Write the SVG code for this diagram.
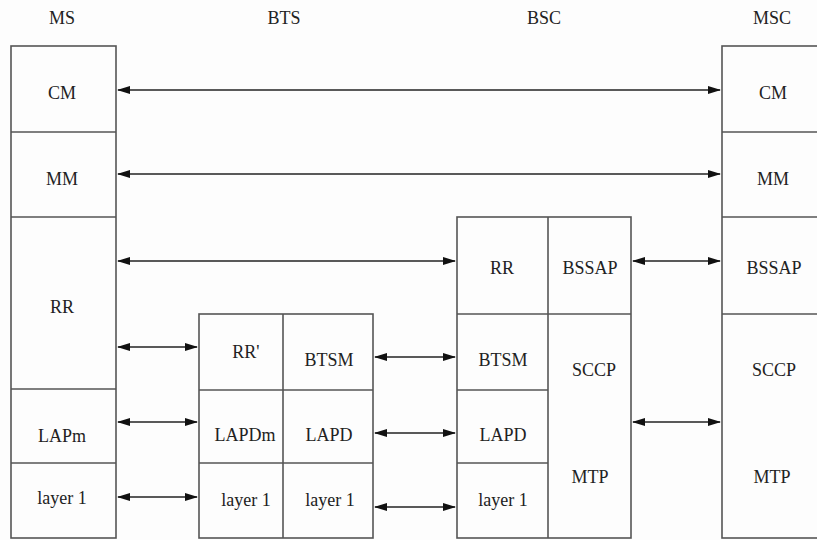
<svg xmlns="http://www.w3.org/2000/svg" width="817" height="540" viewBox="0 0 817 540">
<style>
.box{fill:none;stroke:#555;stroke-width:1.6}
.t{font-family:'Liberation Serif','Times New Roman','DejaVu Serif',serif;font-size:18px;fill:#222;text-anchor:middle}
.c{stroke:#222;stroke-width:1.4;fill:none;marker-start:url(#ah);marker-end:url(#ah)}
</style>
<defs>
<marker id="ah" markerUnits="userSpaceOnUse" markerWidth="13" markerHeight="9" refX="12" refY="4.5" orient="auto-start-reverse">
<path d="M0,0.5 L13,4.5 L0,8.5 z" fill="#111"/>
</marker>
</defs>
<rect width="817" height="540" fill="#fdfdfd"/>
<g id="headers">
<text class="t" x="62" y="24">MS</text>
<text class="t" x="284" y="24">BTS</text>
<text class="t" x="544" y="24">BSC</text>
<text class="t" x="772" y="24">MSC</text>
</g>
<g id="MS">
<rect class="box" x="11" y="46" width="105" height="492"/>
<line class="box" x1="11" y1="132" x2="116" y2="132"/>
<line class="box" x1="11" y1="217" x2="116" y2="217"/>
<line class="box" x1="11" y1="389" x2="116" y2="389"/>
<line class="box" x1="11" y1="463" x2="116" y2="463"/>
<text class="t" x="62" y="99">CM</text>
<text class="t" x="62" y="185">MM</text>
<text class="t" x="62" y="313">RR</text>
<text class="t" x="62" y="442">LAPm</text>
<text class="t" x="62" y="504">layer 1</text>
</g>
<g id="BTS">
<rect class="box" x="199" y="314" width="174" height="224"/>
<line class="box" x1="283" y1="314" x2="283" y2="538"/>
<line class="box" x1="199" y1="390" x2="373" y2="390"/>
<line class="box" x1="199" y1="463" x2="373" y2="463"/>
<text class="t" x="246" y="358">RR'</text>
<text class="t" x="329" y="366">BTSM</text>
<text class="t" x="245" y="441">LAPDm</text>
<text class="t" x="329" y="441">LAPD</text>
<text class="t" x="246" y="506">layer 1</text>
<text class="t" x="330" y="506">layer 1</text>
</g>
<g id="BSC">
<rect class="box" x="457" y="217" width="174" height="321"/>
<line class="box" x1="548" y1="217" x2="548" y2="538"/>
<line class="box" x1="457" y1="314" x2="631" y2="314"/>
<line class="box" x1="457" y1="390" x2="548" y2="390"/>
<line class="box" x1="457" y1="463" x2="548" y2="463"/>
<text class="t" x="502" y="274">RR</text>
<text class="t" x="590" y="274">BSSAP</text>
<text class="t" x="503" y="366">BTSM</text>
<text class="t" x="503" y="441">LAPD</text>
<text class="t" x="503" y="506">layer 1</text>
<text class="t" x="594" y="376">SCCP</text>
<text class="t" x="590" y="483">MTP</text>
</g>
<g id="MSC">
<rect class="box" x="722" y="46" width="110" height="492"/>
<line class="box" x1="722" y1="132" x2="832" y2="132"/>
<line class="box" x1="722" y1="217" x2="832" y2="217"/>
<line class="box" x1="722" y1="314" x2="832" y2="314"/>
<text class="t" x="773" y="99">CM</text>
<text class="t" x="773" y="185">MM</text>
<text class="t" x="774" y="274">BSSAP</text>
<text class="t" x="774" y="376">SCCP</text>
<text class="t" x="772" y="483">MTP</text>
</g>
<g id="connectors">
<line class="c" x1="118" y1="90" x2="720" y2="90"/>
<line class="c" x1="118" y1="174" x2="720" y2="174"/>
<line class="c" x1="118" y1="261" x2="455" y2="261"/>
<line class="c" x1="633" y1="261" x2="720" y2="261"/>
<line class="c" x1="118" y1="347" x2="197" y2="347"/>
<line class="c" x1="118" y1="422" x2="197" y2="422"/>
<line class="c" x1="118" y1="497" x2="197" y2="497"/>
<line class="c" x1="375" y1="357" x2="455" y2="357"/>
<line class="c" x1="375" y1="433" x2="455" y2="433"/>
<line class="c" x1="375" y1="507" x2="455" y2="507"/>
<line class="c" x1="633" y1="422" x2="720" y2="422"/>
</g>
</svg>
